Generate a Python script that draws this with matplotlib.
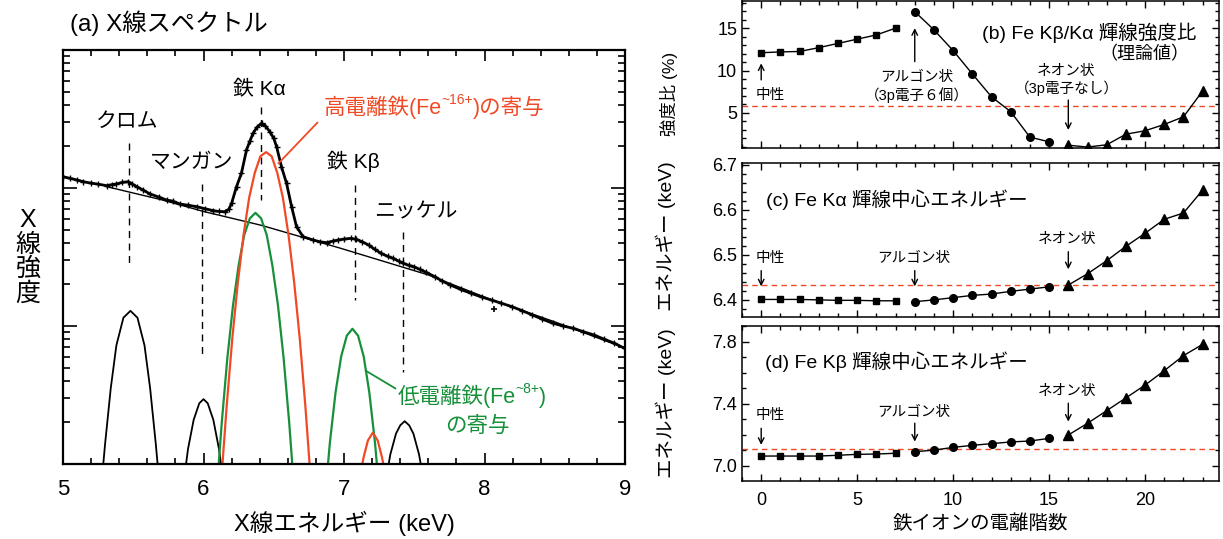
import numpy as np
import matplotlib.pyplot as plt
from matplotlib.ticker import MultipleLocator, LogLocator, NullFormatter, FormatStrFormatter

plt.rcParams['font.family'] = ['Liberation Sans', 'Noto Sans CJK JP', 'DejaVu Sans']

RED = '#ef4a25'
GREEN = '#17903a'

# ---- (a) spectrum, values read as log10(intensity) ----
spec_e = [5.00, 5.05, 5.10, 5.144, 5.20, 5.25, 5.31, 5.35, 5.38, 5.42, 5.464, 5.49,
          5.524, 5.57, 5.619, 5.68, 5.737, 5.78, 5.832, 5.89, 5.951, 6.01, 6.069, 6.11,
          6.152, 6.18, 6.20, 6.235, 6.27, 6.306, 6.33, 6.353, 6.38, 6.413, 6.44, 6.472,
          6.50, 6.52, 6.555, 6.591, 6.627, 6.662, 6.709, 6.78, 6.83, 6.876, 6.92, 6.958,
          7.00, 7.05, 7.088, 7.13, 7.175, 7.22, 7.263, 7.31, 7.35, 7.39, 7.423, 7.46,
          7.496, 7.54, 7.583, 7.65, 7.70, 7.758, 7.83, 7.904, 7.98, 8.05, 8.12, 8.196,
          8.27, 8.341, 8.41, 8.487, 8.56, 8.633, 8.70, 8.779, 8.85, 8.925, 8.997]
spec_lg = [2.082, 2.07, 2.058, 2.046, 2.035, 2.028, 2.017, 2.025, 2.029, 2.04, 2.046, 2.03,
           2.01, 1.985, 1.957, 1.935, 1.913, 1.905, 1.884, 1.875, 1.865, 1.85, 1.836, 1.83,
           1.828, 1.845, 1.889, 2.01, 2.107, 2.275, 2.34, 2.396, 2.44, 2.469, 2.45, 2.408,
           2.36, 2.30, 2.154, 2.034, 1.865, 1.72, 1.647, 1.623, 1.61, 1.604, 1.615, 1.623,
           1.63, 1.635, 1.628, 1.61, 1.587, 1.555, 1.527, 1.505, 1.49, 1.47, 1.454, 1.44,
           1.43, 1.41, 1.39, 1.355, 1.325, 1.297, 1.265, 1.237, 1.21, 1.188, 1.165, 1.14,
           1.11, 1.08, 1.05, 1.02, 1.00, 0.983, 0.96, 0.935, 0.905, 0.875, 0.838]
outlier_e = [8.07]
outlier_lg = [1.12]

cont_e = [5.31, 5.70, 6.00, 6.41, 6.97, 7.60, 8.05, 8.50, 9.00]
cont_lg = [2.01, 1.915, 1.83, 1.73, 1.565, 1.37, 1.19, 1.03, 0.84]

# black components: Cr, Mn, Ni
cr_e = [5.26, 5.30, 5.34, 5.38, 5.43, 5.48, 5.53, 5.58, 5.62, 5.66, 5.70]
cr_lg = [-0.30, 0.15, 0.55, 0.86, 1.06, 1.11, 1.06, 0.86, 0.55, 0.15, -0.30]
mn_e = [5.85, 5.89, 5.93, 5.97, 6.00, 6.03, 6.07, 6.11, 6.15]
mn_lg = [-0.20, 0.11, 0.32, 0.44, 0.47, 0.44, 0.32, 0.11, -0.20]
ni_e = [7.29, 7.33, 7.37, 7.40, 7.432, 7.464, 7.494, 7.534, 7.574]
ni_lg = [-0.16, 0.07, 0.22, 0.28, 0.31, 0.28, 0.22, 0.07, -0.16]

# high ionised (red)
hka_e = [6.125, 6.165, 6.205, 6.245, 6.285, 6.325, 6.365, 6.405, 6.445,
         6.485, 6.525, 6.565, 6.605, 6.645, 6.685, 6.725, 6.765]
hka_lg = [-0.14, 0.42, 0.91, 1.32, 1.66, 1.93, 2.11, 2.23, 2.26,
          2.23, 2.11, 1.93, 1.66, 1.32, 0.91, 0.42, -0.14]
hkb_e = [7.10, 7.14, 7.17, 7.205, 7.24, 7.27, 7.31]
hkb_lg = [-0.15, 0.05, 0.17, 0.227, 0.17, 0.05, -0.15]

# low ionised (green)
lka_e = [6.09, 6.13, 6.17, 6.21, 6.25, 6.29, 6.33, 6.37, 6.41, 6.45, 6.49,
         6.53, 6.57, 6.61, 6.65]
lka_lg = [-0.25, 0.30, 0.77, 1.15, 1.44, 1.66, 1.78, 1.82, 1.78, 1.66, 1.44,
          1.15, 0.77, 0.30, -0.25]
lkb_e = [6.86, 6.90, 6.94, 6.98, 7.02, 7.06, 7.10, 7.14, 7.18, 7.22, 7.26]
lkb_lg = [-0.30, 0.16, 0.52, 0.78, 0.93, 0.98, 0.93, 0.78, 0.52, 0.16, -0.30]

# dashed line markers: energy, top, bottom (log10)
line_names = ['クロム', 'マンガン', '鉄 Kα', '鉄 Kβ', 'ニッケル']
line_e = [5.47, 5.99, 6.41, 7.08, 7.42]
line_top = [2.324, 2.029, 2.589, 2.02, 1.683]
line_bot = [1.447, 0.759, 1.913, 1.188, 0.669]
label_e = [5.46, 5.915, 6.40, 7.066, 7.51]
label_lg = [2.48, 2.183, 2.71, 2.19, 1.828]

# ---- (b)-(d) vs. ionisation stage ----
stage_neutral = [0, 1, 2, 3, 4, 5, 6, 7]
stage_argon = [8, 9, 10, 11, 12, 13, 14, 15]
stage_neon = [16, 17, 18, 19, 20, 21, 22, 23]

ratio_sq = [12.1, 12.2, 12.25, 12.7, 13.2, 13.7, 14.2, 15.0]
ratio_ci = [16.95, 14.8, 12.35, 9.6, 6.9, 5.15, 2.15, 1.6]
ratio_tr = [1.2, 0.98, 1.25, 2.5, 2.9, 3.65, 4.55, 7.6]
ratio_ref = 5.83

ka_sq = [6.401, 6.401, 6.401, 6.400, 6.399, 6.399, 6.398, 6.398]
ka_ci = [6.396, 6.400, 6.405, 6.410, 6.413, 6.419, 6.424, 6.429]
ka_tr = [6.433, 6.458, 6.487, 6.519, 6.548, 6.579, 6.593, 6.644]
ka_ref = 6.433

kb_sq = [7.062, 7.062, 7.062, 7.062, 7.067, 7.073, 7.075, 7.080]
kb_ci = [7.090, 7.100, 7.118, 7.131, 7.142, 7.153, 7.159, 7.176]
kb_tr = [7.198, 7.273, 7.355, 7.437, 7.520, 7.613, 7.710, 7.783]
kb_ref = 7.105

W, H = 1223, 539
fig = plt.figure(figsize=(W / 100, H / 100), dpi=100)


def box(x0, y0, x1, y1):
    return [x0 / W, 1 - y1 / H, (x1 - x0) / W, (y1 - y0) / H]


def sup_text(ax, x, y, pre, sup, post, color, fs, sfs):
    # text with a superscript, built from three pieces (mathtext drops CJK glyphs)
    t1 = ax.text(x, y, pre, color=color, fontsize=fs, ha='left', va='center')
    t2 = ax.annotate(sup, xy=(1, 0.52), xycoords=t1, ha='left', va='bottom',
                     color=color, fontsize=sfs)
    ax.annotate(post, xy=(1, 0), xycoords=(t2, t1), ha='left', va='bottom',
                color=color, fontsize=fs)


# ================= (a) =================
ax = fig.add_axes(box(63, 50, 625, 464))
p = lambda v: np.power(10.0, v)

for e, t, b in zip(line_e, line_top, line_bot):
    ax.plot([e, e], [p(t), p(b)], color='k', lw=1.0, ls=(0, (5, 4)))

ax.plot(cont_e, p(cont_lg), color='k', lw=1.0)
for xs, ys in [(cr_e, cr_lg), (mn_e, mn_lg), (ni_e, ni_lg)]:
    ax.plot(xs, p(ys), color='k', lw=1.3)
ax.plot(lka_e, p(lka_lg), color=GREEN, lw=1.6)
ax.plot(lkb_e, p(lkb_lg), color=GREEN, lw=1.6)
ax.plot(hka_e, p(hka_lg), color=RED, lw=1.6)
ax.plot(hkb_e, p(hkb_lg), color=RED, lw=1.6)
ax.plot(spec_e, p(spec_lg), color='k', lw=2.0, marker='+', ms=4, mew=1.0)
ax.plot(outlier_e, p(outlier_lg), color='k', ls='none', marker='+', ms=5, mew=1.2)

for name, e, v in zip(line_names, label_e, label_lg):
    ax.text(e, p(v), name, ha='center', va='center', fontsize=15)

ax.plot([6.81, 6.534], [p(2.473), p(2.179)], color=RED, lw=1.3)
sup_text(ax, 6.855, p(2.585), '高電離鉄(Fe', '~16+', ')の寄与', RED, 15.5, 10)
ax.plot([7.365, 7.155], [p(0.548), p(0.676)], color=GREEN, lw=1.3)
sup_text(ax, 7.379, p(0.488), '低電離鉄(Fe', '~8+', ')', GREEN, 15.5, 10)
ax.text(7.95, p(0.27), 'の寄与', color=GREEN, ha='center', va='center', fontsize=15.5)

ax.set_xlim(5, 9)
ax.set_yscale('log')
ax.set_ylim(1, 1000)
ax.xaxis.set_major_locator(MultipleLocator(1))
ax.xaxis.set_minor_locator(MultipleLocator(0.2))
ax.yaxis.set_major_locator(LogLocator(base=10, numticks=10))
ax.yaxis.set_minor_locator(LogLocator(base=10, subs=np.arange(2, 10), numticks=10))
ax.yaxis.set_major_formatter(NullFormatter())
ax.yaxis.set_minor_formatter(NullFormatter())
ax.tick_params(which='both', direction='in', top=True, right=True, width=1.2)
ax.tick_params(axis='x', which='major', length=8, labelsize=16, pad=11)
ax.tick_params(axis='x', which='minor', length=4)
ax.tick_params(axis='y', which='major', length=10)
ax.tick_params(axis='y', which='minor', length=5)
for s in ax.spines.values():
    s.set_linewidth(1.6)
ax.set_xlabel('X線エネルギー (keV)', fontsize=17, labelpad=8)

fig.text(70 / W, 1 - 23 / H, '(a) X線スペクトル', ha='left', va='center', fontsize=17.5)
fig.text(28 / W, 1 - 257 / H, 'X\n線\n強\n度', ha='center', va='center',
         fontsize=18, linespacing=1.02)

# ================= (b)-(d) =================
ax_b = fig.add_axes(box(742, 1, 1219, 148))
ax_c = fig.add_axes(box(742, 163, 1219, 317))
ax_d = fig.add_axes(box(742, 326, 1219, 481))

series = [
    (ax_b, ratio_sq, ratio_ci, ratio_tr, ratio_ref),
    (ax_c, ka_sq, ka_ci, ka_tr, ka_ref),
    (ax_d, kb_sq, kb_ci, kb_tr, kb_ref),
]
for a, sq, ci, tr, ref in series:
    a.axhline(ref, color=RED, lw=1.0, ls=(0, (4, 3)))
    a.plot(stage_neutral, sq, color='k', lw=1.0, marker='s', ms=5)
    a.plot(stage_argon, ci, color='k', lw=1.0, marker='o', ms=5.5)
    a.plot(stage_neon, tr, color='k', lw=1.0, marker='^', ms=7.5)
    a.set_xlim(-1, 23.85)
    a.xaxis.set_major_locator(MultipleLocator(5))
    a.xaxis.set_minor_locator(MultipleLocator(1))
    a.tick_params(which='both', direction='in', top=True, right=True, width=1.0,
                  labelsize=13)
    a.tick_params(which='major', length=5)
    a.tick_params(which='minor', length=3)
    for s in a.spines.values():
        s.set_linewidth(1.1)

ax_b.set_ylim(0.87, 18.2)
ax_b.yaxis.set_major_locator(MultipleLocator(5))
ax_b.yaxis.set_minor_locator(MultipleLocator(1))
ax_c.set_ylim(6.362, 6.704)
ax_c.yaxis.set_major_locator(MultipleLocator(0.1))
ax_c.yaxis.set_minor_locator(MultipleLocator(0.02))
ax_d.set_ylim(6.901, 7.901)
ax_d.yaxis.set_major_locator(MultipleLocator(0.4, offset=0.2))
ax_d.yaxis.set_minor_locator(MultipleLocator(0.1))
ax_c.yaxis.set_major_formatter(FormatStrFormatter('%.1f'))
ax_d.yaxis.set_major_formatter(FormatStrFormatter('%.1f'))
for a in (ax_b, ax_c):
    a.tick_params(labelbottom=False)
ax_d.tick_params(axis='x', pad=8)

ax_b.set_ylabel('強度比 (%)', fontsize=12.5)
ax_b.yaxis.set_label_coords(-0.135, 0.367)
ax_c.set_ylabel('エネルギー (keV)', fontsize=14)
ax_c.yaxis.set_label_coords(-0.138, 0.523)
ax_d.set_ylabel('エネルギー (keV)', fontsize=14)
ax_d.yaxis.set_label_coords(-0.138, 0.5)
ax_d.set_xlabel('鉄イオンの電離階数', fontsize=14, labelpad=4)

arrow = dict(arrowstyle='->', color='k', lw=1.0, shrinkA=0, shrinkB=0)
fs = 10.5

# (b)
ax_b.text(22.69, 14.44, '(b) Fe Kβ/Kα 輝線強度比', ha='right', va='center', fontsize=14)
ax_b.text(22.3, 11.85, '（理論値）', ha='right', va='center', fontsize=13)
ax_b.text(-0.31, 7.12, '中性', ha='left', va='center', fontsize=fs)
ax_b.annotate('', xy=(0, 10.85), xytext=(0, 8.9), arrowprops=arrow)
ax_b.text(8.1, 8.1, 'アルゴン状\n（3p電子６個）', ha='center', va='center', fontsize=fs)
ax_b.annotate('', xy=(8, 15.0), xytext=(8, 11.05), arrowprops=arrow)
ax_b.text(15.9, 8.84, 'ネオン状\n（3p電子なし）', ha='center', va='center', fontsize=fs)
ax_b.annotate('', xy=(16, 2.99), xytext=(16, 6.53), arrowprops=arrow)

# (c)
ax_c.text(0.26, 6.622, '(c) Fe Kα 輝線中心エネルギー', ha='left', va='center', fontsize=14)
ax_c.text(-0.31, 6.493, '中性', ha='left', va='center', fontsize=fs)
ax_c.annotate('', xy=(0, 6.43), xytext=(0, 6.465), arrowprops=arrow)
ax_c.text(7.97, 6.493, 'アルゴン状', ha='center', va='center', fontsize=fs)
ax_c.annotate('', xy=(8, 6.43), xytext=(8, 6.465), arrowprops=arrow)
ax_c.text(15.96, 6.536, 'ネオン状', ha='center', va='center', fontsize=fs)
ax_c.annotate('', xy=(16, 6.468), xytext=(16, 6.507), arrowprops=arrow)

# (d)
ax_d.text(0.21, 7.671, '(d) Fe Kβ 輝線中心エネルギー', ha='left', va='center', fontsize=14)
ax_d.text(-0.31, 7.327, '中性', ha='left', va='center', fontsize=fs)
ax_d.annotate('', xy=(0, 7.134), xytext=(0, 7.241), arrowprops=arrow)
ax_d.text(7.97, 7.348, 'アルゴン状', ha='center', va='center', fontsize=fs)
ax_d.annotate('', xy=(8, 7.155), xytext=(8, 7.274), arrowprops=arrow)
ax_d.text(15.96, 7.482, 'ネオン状', ha='center', va='center', fontsize=fs)
ax_d.annotate('', xy=(16, 7.284), xytext=(16, 7.403), arrowprops=arrow)

fig.savefig('out.png', dpi=100)
